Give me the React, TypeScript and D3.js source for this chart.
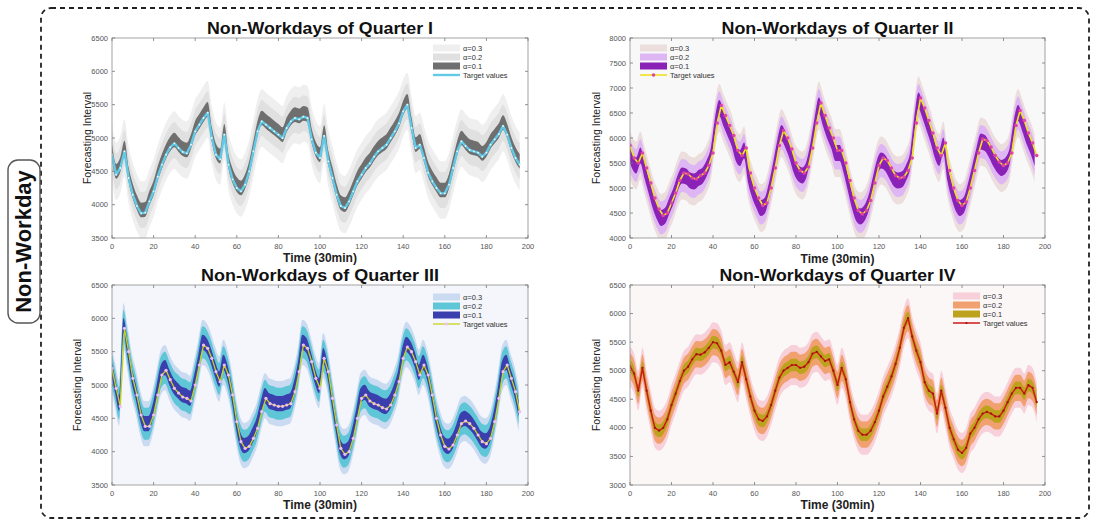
import React from 'react';
import * as d3 from 'd3';

// Time index (30-min steps), values read every 2 steps
const TIME = d3.range(0, 197, 2);

const Q1_TARGET = [4750, 4450, 4550, 4800, 4400, 4150, 3980, 3870, 3880, 4050, 4200, 4420, 4600, 4750, 4860, 4920, 4850, 4790, 4770, 4900,
  5100, 5200, 5300, 5380, 5000, 4750, 4680, 5050, 4600, 4380, 4250, 4200, 4300, 4500, 4800, 5100, 5250, 5200, 5150, 5100,
  5050, 5000, 5150, 5250, 5300, 5280, 5320, 5300, 4980, 4780, 4700, 5030, 4650, 4400, 4150, 3980, 3950, 4050, 4200, 4350,
  4450, 4550, 4620, 4720, 4800, 4850, 4900, 5000, 5100, 5220, 5400, 5500, 5150, 4850, 4900, 4700, 4480, 4350, 4250, 4170,
  4170, 4300, 4550, 4800, 4950, 4880, 4820, 4800, 4780, 4720, 4780, 4900, 4980, 5060, 5180, 5050, 4850, 4700, 4600];

const Q2_TARGET = [5850, 5600, 5500, 5700, 5400, 5100, 4800, 4580, 4450, 4500, 4700, 4900, 5150, 5300, 5280, 5200, 5180, 5250, 5300, 5450,
  5700, 6300, 6650, 6450, 6250, 6050, 5750, 5650, 5800, 5300, 5000, 4800, 4650, 4700, 5000, 5400, 5850, 6150, 6000, 5780,
  5500, 5350, 5300, 5420, 5800, 6300, 6700, 6450, 6200, 6000, 5750, 5750, 5500, 5150, 4800, 4550, 4480, 4550, 4750, 5100,
  5450, 5600, 5550, 5400, 5250, 5200, 5220, 5350, 5600, 6300, 6800, 6600, 6350, 6100, 5800, 5650, 5900, 5350, 5000, 4750,
  4650, 4720, 5000, 5350, 5700, 5980, 5950, 5820, 5650, 5520, 5450, 5500, 5700, 6250, 6550, 6350, 6100, 5900, 5650];

const Q3_TARGET = [5250, 4950, 4680, 5850, 5500, 5100, 4850, 4550, 4380, 4380, 4550, 4850, 5150, 5220, 5080, 4950, 4880, 4820, 4800, 4760,
  5000, 5300, 5600, 5550, 5400, 5200, 5050, 5300, 5150, 4850, 4450, 4150, 4050, 4080, 4200, 4350, 4600, 4800, 4720, 4700,
  4680, 4680, 4700, 4720, 4900, 5200, 5600, 5550, 5350, 5100, 4950, 5400, 5200, 4800, 4400, 4050, 3960, 4000, 4200, 4500,
  4800, 4850, 4760, 4720, 4700, 4660, 4640, 4700, 4850, 5050, 5400, 5570, 5500, 5350, 5150, 5300, 5150, 4850, 4500, 4250,
  4080, 4040, 4100, 4250, 4420, 4460, 4420, 4350, 4250, 4150, 4120, 4200, 4450, 4800, 5200, 5300, 5100, 4900, 4600];

const Q4_TARGET = [5080, 4950, 4650, 5050, 4650, 4300, 4000, 3950, 4000, 4150, 4400, 4600, 4820, 5000, 5070, 5200, 5290, 5280, 5320, 5400,
  5500, 5480, 5350, 5100, 5150, 4980, 4800, 5150, 4850, 4550, 4300, 4150, 4120, 4200, 4400, 4650, 4880, 5000, 5050, 5100,
  5100, 5050, 5070, 5150, 5300, 5330, 5250, 5170, 5200, 5000, 4750, 5050, 4850, 4450, 4150, 3950, 3880, 3880, 3950, 4100,
  4300, 4550, 4720, 4900, 5120, 5400, 5750, 5920, 5600, 5350, 5150, 4800, 4650, 4600, 4250, 4650, 4350, 4000, 3800, 3620,
  3560, 3650, 3900, 4000, 4150, 4250, 4280, 4250, 4200, 4200, 4300, 4450, 4600, 4700, 4700, 4600, 4750, 4700, 4450];

// Interval half-widths for α=0.3, α=0.2, α=0.1 and interval centre offset
const Q1_HALF = [430, 270, 110];
const Q2_HALF = [480, 330, 160];
const Q3_HALF = [340, 240, 115];
const Q4_HALF = [350, 230, 110];
const CENTER_OFFSET = [50, -50, 40, 0];
const BAND_SHIFT = [0, -1, -0.5, 0];

const LEGEND_LABELS = ['α=0.3', 'α=0.2', 'α=0.1', 'Target values'];
const X_TICKS = d3.range(0, 201, 20);
const TITLES = ['Non-Workdays of Quarter I', 'Non-Workdays of Quarter II', 'Non-Workdays of Quarter III', 'Non-Workdays of Quarter IV'];

const FONT = '"Liberation Sans", Arial, sans-serif';

type Cfg = {
  title: string; titleW: number; target: number[]; half: number[]; offset: number; shift: number;
  x0: number; x1: number; y0: number; y1: number; yDomain: [number, number];
  bg: string; band: string[]; line: string; lineW: number; marker: string; markerR: number;
  legendX: number; legendY: number; titleY: number; ylabX: number; xlabY: number; id: string;
  q1style?: boolean;
};

const PANELS: Cfg[] = [
  { id: 'p1', title: TITLES[0], titleW: 226, target: Q1_TARGET, half: Q1_HALF, offset: CENTER_OFFSET[0], shift: BAND_SHIFT[0],
    x0: 112, x1: 528, y0: 38, y1: 238, yDomain: [3500, 6500], bg: '#ffffff',
    band: ['#efefef', '#e0e0e0', '#6f6f6f'], line: '#62c9e6', lineW: 2.4, marker: '#e8fbff', markerR: 0.9,
    legendX: 433, legendY: 48, titleY: 33.5, ylabX: 88, xlabY: 262, q1style: true },
  { id: 'p2', title: TITLES[1], titleW: 232, target: Q2_TARGET, half: Q2_HALF, offset: CENTER_OFFSET[1], shift: BAND_SHIFT[1],
    x0: 630, x1: 1045, y0: 38, y1: 238, yDomain: [4000, 8000], bg: '#f8f8f8',
    band: ['#ecdedd', '#dfb6f4', '#8a22b8'], line: '#f0e020', lineW: 1.6, marker: '#e0449c', markerR: 1.8,
    legendX: 640, legendY: 48, titleY: 33.5, ylabX: 597, xlabY: 263 },
  { id: 'p3', title: TITLES[2], titleW: 238, target: Q3_TARGET, half: Q3_HALF, offset: CENTER_OFFSET[2], shift: BAND_SHIFT[2],
    x0: 112, x1: 528, y0: 285, y1: 485, yDomain: [3500, 6500], bg: '#f4f6fb',
    band: ['#c9daf1', '#5ec6d6', '#3b3fae'], line: '#c6d21e', lineW: 1.3, marker: '#efbfef', markerR: 1.6,
    legendX: 433, legendY: 297, titleY: 281, ylabX: 78, xlabY: 509 },
  { id: 'p4', title: TITLES[3], titleW: 236, target: Q4_TARGET, half: Q4_HALF, offset: CENTER_OFFSET[3], shift: BAND_SHIFT[3],
    x0: 630, x1: 1045, y0: 285, y1: 485, yDomain: [3000, 6500], bg: '#fcf7f7',
    band: ['#f7d0da', '#f1a070', '#bda21e'], line: '#cc1a1a', lineW: 1.5, marker: '#a01010', markerR: 1.1,
    legendX: 953, legendY: 296, titleY: 281, ylabX: 597, xlabY: 509 },
];

function Panel({ c }: { c: Cfg }) {
  const x = d3.scaleLinear().domain([0, 200]).range([c.x0, c.x1]);
  const y = d3.scaleLinear().domain(c.yDomain).range([c.y1, c.y0]);
  const pts = TIME.map((t, i) => ({ t, v: c.target[i] }));
  const yTicks = d3.range(c.yDomain[0], c.yDomain[1] + 1, 500);
  const areas = c.half.map((h) =>
    d3.area<{ t: number; v: number }>()
      .x((d) => x(d.t + c.shift))
      .y0((d) => y(d.v + c.offset - h))
      .y1((d) => y(d.v + c.offset + h))
      .curve(d3.curveMonotoneX)(pts) as string
  );
  const linePath = d3.line<{ t: number; v: number }>().x((d) => x(d.t)).y((d) => y(d.v))(pts) as string;
  const tickColor = '#777';
  const lx = c.legendX;
  const rowH = 9;
  return (
    <g>
      <defs>
        <clipPath id={`clip-${c.id}`}>
          <rect x={c.x0} y={c.y0} width={c.x1 - c.x0} height={c.y1 - c.y0} />
        </clipPath>
      </defs>
      <rect x={c.x0} y={c.y0} width={c.x1 - c.x0} height={c.y1 - c.y0} fill={c.bg} />
      <g clipPath={`url(#clip-${c.id})`}>
        {areas.map((p, k) => <path key={k} d={p} fill={c.band[k]} stroke="none" />)}
        <path d={linePath} fill="none" stroke={c.line} strokeWidth={c.lineW} strokeLinejoin="round" />
        {pts.map((d, i) => (
          <circle key={i} cx={x(d.t)} cy={y(d.v)} r={c.markerR} fill={c.marker} />
        ))}
      </g>
      <rect x={c.x0} y={c.y0} width={c.x1 - c.x0} height={c.y1 - c.y0} fill="none" stroke="#9a9a9a" strokeWidth={0.9} />
      {X_TICKS.map((t) => (
        <g key={`x${t}`}>
          <line x1={x(t)} x2={x(t)} y1={c.y1} y2={c.y1 - 3} stroke={tickColor} strokeWidth={0.8} />
          <line x1={x(t)} x2={x(t)} y1={c.y0} y2={c.y0 + 3} stroke={tickColor} strokeWidth={0.8} />
          <text x={x(t)} y={c.y1 + 11} textAnchor="middle" fontSize={7.5} fill="#555" fontFamily={FONT}>{t}</text>
        </g>
      ))}
      {yTicks.map((t) => (
        <g key={`y${t}`}>
          <line x1={c.x0} x2={c.x0 + 3} y1={y(t)} y2={y(t)} stroke={tickColor} strokeWidth={0.8} />
          <line x1={c.x1} x2={c.x1 - 3} y1={y(t)} y2={y(t)} stroke={tickColor} strokeWidth={0.8} />
          <text x={c.x0 - 4} y={y(t) + 2.5} textAnchor="end" fontSize={7.5} fill="#555" fontFamily={FONT}>{t}</text>
        </g>
      ))}
      <text x={(c.x0 + c.x1) / 2} y={c.titleY} textAnchor="middle" fontSize={16} fontWeight="bold" fill="#111" fontFamily={FONT}
        textLength={c.titleW} lengthAdjust="spacingAndGlyphs">{c.title}</text>
      <text x={(c.x0 + c.x1) / 2} y={c.xlabY} textAnchor="middle" fontSize={12} fontWeight="bold" fill="#222" fontFamily={FONT}>Time (30min)</text>
      <text transform={`translate(${c.ylabX},${(c.y0 + c.y1) / 2}) rotate(-90)`} textAnchor="middle" dominantBaseline="middle" fontSize={10.5} fill="#222" fontFamily={FONT}>Forecasting Interval</text>
      {/* legend */}
      <g>
        {c.band.map((col, k) => (
          <g key={k}>
            <rect x={lx} y={c.legendY + k * rowH - 3.5} width={27} height={7} fill={col} />
            <text x={lx + 30} y={c.legendY + k * rowH + 2.5} fontSize={7.5} fill="#333" fontFamily={FONT}>{LEGEND_LABELS[k]}</text>
          </g>
        ))}
        <line x1={lx} x2={lx + 27} y1={c.legendY + 3 * rowH} y2={c.legendY + 3 * rowH} stroke={c.line} strokeWidth={c.lineW} />
        {!c.q1style && <circle cx={lx + 13.5} cy={c.legendY + 3 * rowH} r={c.markerR} fill={c.marker} />}
        <text x={lx + 30} y={c.legendY + 3 * rowH + 2.5} fontSize={7.5} fill="#333" fontFamily={FONT}>{LEGEND_LABELS[3]}</text>
      </g>
    </g>
  );
}

export default function App() {
  const W = 1096, H = 524;
  return (
    <svg width={W} height={H} style={{ position: 'absolute', left: 0, top: 0, background: '#fff' }}>
      <rect x={0} y={0} width={W} height={H} fill="#fff" />
      <rect x={41} y={8} width={1048} height={510} rx={10} ry={10} fill="none" stroke="#222" strokeWidth={1.8} strokeDasharray="5,4" />
      {PANELS.map((c) => <Panel key={c.id} c={c} />)}
      <rect x={8} y={160} width={32} height={163} rx={10} ry={10} fill="#fff" stroke="#555" strokeWidth={1.4} />
      <text transform="translate(25,241.5) rotate(-90)" textAnchor="middle" dominantBaseline="middle" fontSize={22} fontWeight="bold" fill="#111" fontFamily={FONT}>Non-Workday</text>
    </svg>
  );
}
